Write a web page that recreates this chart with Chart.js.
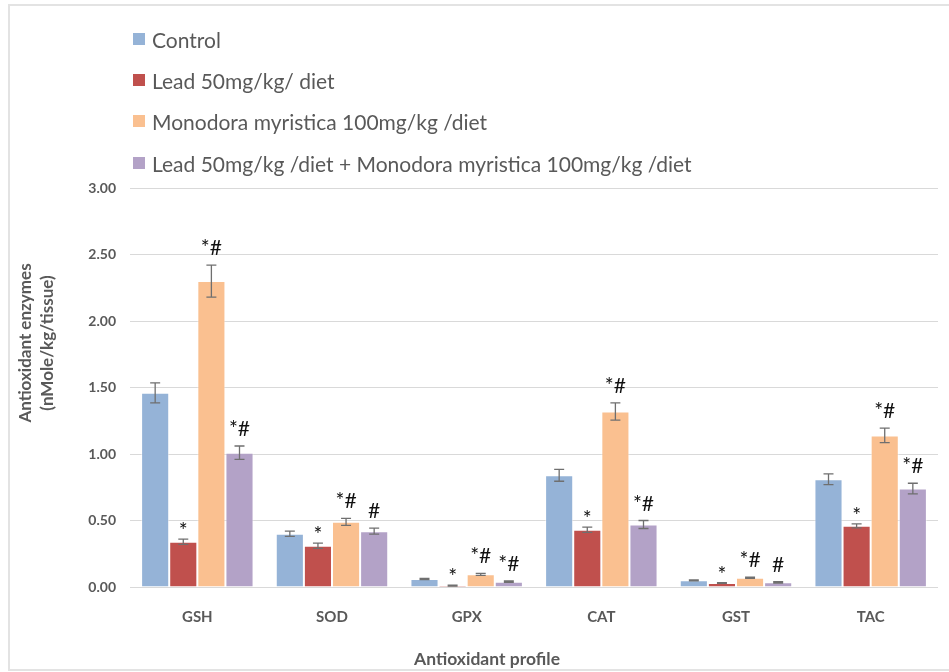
<!DOCTYPE html>
<html>
<head>
<meta charset="utf-8">
<script src="https://cdn.jsdelivr.net/npm/chart.js@4"></script>
<style>
    body { margin: 0; background: #fff; overflow: hidden; }
    #wrap { position: relative; width: 949px; height: 672px; }
    #frame { position: absolute; left: 8px; top: 4px; width: 960px; height: 667px; border: 2px solid #e3e3e3; box-sizing: border-box; }
    #chart { position: absolute; left: 0; top: 0; }
    #legend { position: absolute; left: 133px; top: 0; font-family: Lato, sans-serif; font-size: 21px; color: #595959; }
    .legend-item { position: absolute; white-space: nowrap; display: flex; align-items: center; height: 24px; }
    .legend-box { width: 12px; height: 12px; margin-right: 7px; }
</style>
</head>
<body>
<div id="wrap">
    <div id="frame"></div>
    <canvas id="chart" width="949" height="672"></canvas>
    <div id="legend"></div>
</div>
<script>
const categories = ['GSH', 'SOD', 'GPX', 'CAT', 'GST', 'TAC'];
const seriesNames = [
    'Control',
    'Lead 50mg/kg/ diet',
    'Monodora myristica 100mg/kg /diet',
    'Lead 50mg/kg /diet + Monodora myristica 100mg/kg /diet'
];
const seriesColors = ['#95B3D7', '#C0504D', '#FAC090', '#B3A2C7'];

const controlValues = [1.46, 0.40, 0.06, 0.84, 0.05, 0.81];
const leadValues = [0.34, 0.31, 0.01, 0.43, 0.03, 0.46];
const monodoraValues = [2.30, 0.49, 0.095, 1.32, 0.07, 1.14];
const comboValues = [1.01, 0.42, 0.04, 0.47, 0.035, 0.74];

const controlErrors = [0.075, 0.02, 0.004, 0.045, 0.004, 0.04];
const leadErrors = [0.02, 0.02, 0.004, 0.02, 0.003, 0.015];
const monodoraErrors = [0.12, 0.026, 0.008, 0.065, 0.005, 0.055];
const comboErrors = [0.05, 0.023, 0.005, 0.03, 0.005, 0.04];

const controlMarks = ['', '', '', '', '', ''];
const leadMarks = ['*', '*', '*', '*', '*', '*'];
const monodoraMarks = ['*#', '*#', '*#', '*#', '*#', '*#'];
const comboMarks = ['*#', '#', '*#', '*#', '#', '*#'];

const yTicks = [0, 0.5, 1, 1.5, 2, 2.5, 3];
const yTitle = ['Antioxidant enzymes', '(nMole/kg/tissue)'];
const xTitle = 'Antioxidant profile';

// legend, stacked one per row like the original
const legendRows = [39, 80, 121, 163];
seriesNames.forEach((name, i) => {
    const item = document.createElement('div');
    item.className = 'legend-item';
    item.style.top = (legendRows[i] - 12) + 'px';
    item.innerHTML = `<span class="legend-box" style="background:${seriesColors[i]}"></span><span>${name}</span>`;
    document.getElementById('legend').appendChild(item);
});

const errorBars = {
    id: 'errorBars',
    afterDatasetsDraw(chart) {
        const ctx = chart.ctx;
        const y = chart.scales.y;
        ctx.save();
        chart.data.datasets.forEach((ds, i) => {
            chart.getDatasetMeta(i).data.forEach((bar, j) => {
                const v = ds.data[j];
                const e = ds.errors[j];
                const top = y.getPixelForValue(v + e);
                const bottom = y.getPixelForValue(v - e);
                ctx.strokeStyle = '#6f6f6f';
                ctx.lineWidth = 1.3;
                ctx.beginPath();
                ctx.moveTo(bar.x, top);
                ctx.lineTo(bar.x, bottom);
                ctx.moveTo(bar.x - 5, top);
                ctx.lineTo(bar.x + 5, top);
                ctx.moveTo(bar.x - 5, bottom);
                ctx.lineTo(bar.x + 5, bottom);
                ctx.stroke();

                const mark = ds.marks[j];
                if (mark) {
                    ctx.font = '21px Lato';
                    ctx.fillStyle = '#111';
                    ctx.textAlign = 'center';
                    ctx.textBaseline = 'alphabetic';
                    const m = ctx.measureText(mark);
                    ctx.fillText(mark, bar.x, top - 10 - m.actualBoundingBoxDescent);
                }
            });
        });
        ctx.restore();
    },
    afterDraw(chart) {
        // axis titles: both sit off the plot centre in the original
        const ctx = chart.ctx;
        ctx.save();
        ctx.fillStyle = '#595959';
        ctx.textAlign = 'center';
        ctx.textBaseline = 'middle';
        ctx.font = 'bold 17.5px Lato';
        ctx.fillText(xTitle, 487, 659);
        ctx.font = 'bold 17px Lato';
        yTitle.forEach((line, k) => {
            ctx.save();
            ctx.translate(26 + k * 21.5, 343);
            ctx.rotate(-Math.PI / 2);
            ctx.fillText(line, 0, 0);
            ctx.restore();
        });
        ctx.restore();
    }
};

const ctx = document.getElementById('chart').getContext('2d');
new Chart(ctx, {
    type: 'bar',
    data: {
        labels: categories,
        datasets: [
            { label: seriesNames[0], data: controlValues, errors: controlErrors, marks: controlMarks, backgroundColor: seriesColors[0] },
            { label: seriesNames[1], data: leadValues, errors: leadErrors, marks: leadMarks, backgroundColor: seriesColors[1] },
            { label: seriesNames[2], data: monodoraValues, errors: monodoraErrors, marks: monodoraMarks, backgroundColor: seriesColors[2] },
            { label: seriesNames[3], data: comboValues, errors: comboErrors, marks: comboMarks, backgroundColor: seriesColors[3] }
        ].map(ds => Object.assign(ds, {
            borderColor: 'rgba(255,255,255,0.5)',
            borderWidth: 1,
            categoryPercentage: 0.835,
            barPercentage: 1.0
        }))
    },
    options: {
        responsive: false,
        animation: false,
        devicePixelRatio: 1,
        layout: { padding: { top: 188, left: 10, right: 11, bottom: 5 } },
        scales: {
            x: {
                grid: { display: false },
                border: { display: false },
                ticks: {
                    color: '#595959',
                    font: { family: 'Lato', size: 15, weight: 'bold' },
                    padding: 13
                },
                afterFit(scale) { scale.height = 80; }
            },
            y: {
                min: 0,
                max: 3,
                afterBuildTicks(scale) { scale.ticks = yTicks.map(v => ({ value: v })); },
                grid: { color: '#d9d9d9', drawTicks: false },
                border: { display: false },
                ticks: {
                    color: '#595959',
                    font: { family: 'Lato', size: 14, weight: 'bold' },
                    padding: 14,
                    callback: v => Number(v).toFixed(2)
                },
                afterFit(scale) { scale.width = 120; }
            }
        },
        plugins: {
            legend: { display: false },
            tooltip: { enabled: false }
        }
    },
    plugins: [errorBars]
});
</script>
</body>
</html>
